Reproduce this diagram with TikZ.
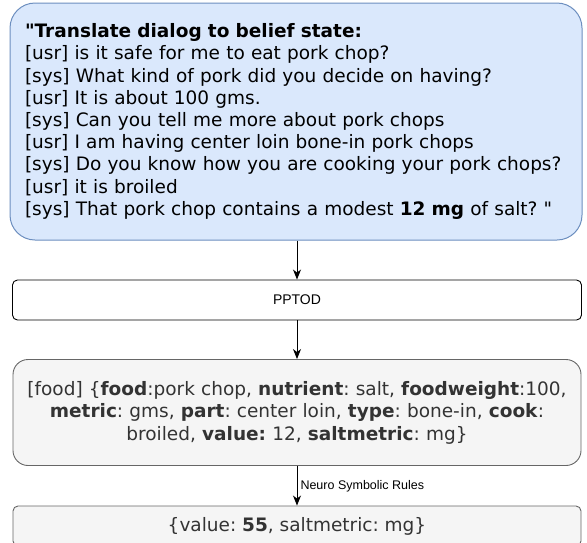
\documentclass[tikz,border=0pt]{standalone}
\usepackage{fontspec}
\newfontfamily\verd{DejaVu Sans}
\newfontfamily\helv{Liberation Sans}
\usetikzlibrary{arrows.meta}
\definecolor{bluefill}{HTML}{DAE8FC}
\definecolor{blueline}{HTML}{6C8EBF}
\definecolor{grayfill}{HTML}{F5F5F5}
\definecolor{grayline}{HTML}{666666}
\definecolor{graytext}{HTML}{333333}
\tikzset{
  dialogbox/.style={draw=blueline, fill=bluefill, line width=1pt, rounded corners=25pt,
    minimum width=572pt, minimum height=237pt, inner xsep=15pt, text width=542pt,
    align=left, font=\verd\frenchspacing\fontsize{18.5}{22.2}\selectfont},
  modelbox/.style={draw=black, fill=white, line width=0.9pt, rounded corners=5pt,
    minimum width=569pt, minimum height=40pt, font=\helv\fontsize{14}{16}\selectfont},
  statebox/.style={draw=grayline, fill=grayfill, line width=0.9pt, rounded corners=15pt,
    minimum width=568pt, minimum height=106pt, inner xsep=8pt, text width=552pt,
    align=center, text=graytext, font=\verd\frenchspacing\fontsize{18.5}{22.5}\selectfont},
  resultbox/.style={draw=grayline, fill=grayfill, line width=0.9pt, rounded corners=5pt,
    minimum width=568pt, minimum height=40pt, text=graytext,
    font=\verd\frenchspacing\fontsize{18.5}{22}\selectfont},
  arr/.style={draw=black, line width=1pt, -{Stealth[length=10pt, width=8pt, inset=3pt]}},
  rulelabel/.style={font=\helv\fontsize{12.5}{14}\selectfont, inner sep=3pt}
}
\begin{document}
\begin{tikzpicture}[x=1pt, y=-1pt]
\useasboundingbox (0,0) rectangle (587,542);
\clip (0,0) rectangle (587,542);
\node[dialogbox] (dialog) at (296,121.5) {\textbf{"Translate dialog to belief state:}\\
{[usr]} is it safe for me to eat pork chop?\\
{[sys]} What kind of pork did you decide on having?\\
{[usr]} It is about 100 gms.\\
{[sys]} Can you tell me more about pork chops\\
{[usr]} I am having center loin bone-in pork chops\\
{[sys]} Do you know how you are cooking your pork chops?\\
{[usr]} it is broiled\\
{[sys]} That pork chop contains a modest \textbf{12 mg} of salt? "};
\node[modelbox] (pptod) at (297,300) {PPTOD};
\node[statebox] (state) at (297,412.5) {[food] \{\textbf{food}:pork chop, \textbf{nutrient}: salt, \textbf{foodweight}:100,\\
\textbf{metric}: gms, \textbf{part}: center loin, \textbf{type}: bone-in, \textbf{cook}:\\
broiled, \textbf{value:} 12, \textbf{saltmetric}: mg\}};
\node[resultbox] (result) at (297,526) {\{value: \textbf{55}, saltmetric: mg\}};
\draw[arr] (dialog.south -| pptod.north) -- (pptod.north);
\draw[arr] (pptod.south) -- (state.north);
\draw[arr] (state.south) -- node[rulelabel, right, yshift=-1pt] (rules) {Neuro Symbolic Rules} (result.north);
\end{tikzpicture}
\end{document}
